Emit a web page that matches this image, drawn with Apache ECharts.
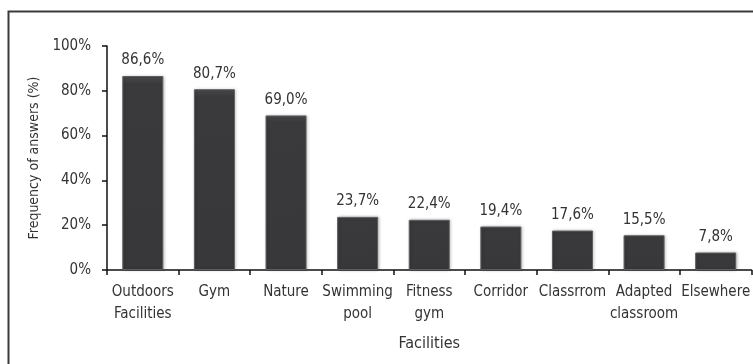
<!DOCTYPE html>
<html>
<head>
<meta charset="utf-8">
<script src="https://cdn.jsdelivr.net/npm/echarts@6/dist/echarts.min.js"></script>
<style>
  html, body { margin: 0; padding: 0; background: #fff; }
  #chart { width: 753px; height: 364px; }
</style>
</head>
<body>
<div id="chart"></div>
<script>
// Places where answers were given, and the share of answers for each
const categories = ['Outdoors\nFacilities', 'Gym', 'Nature', 'Swimming\npool', 'Fitness\ngym',
  'Corridor', 'Classrrom', 'Adapted\nclassroom', 'Elsewhere'];
const frequencies = [86.6, 80.7, 69.0, 23.7, 22.4, 19.4, 17.6, 15.5, 7.8];
const yTicks = [0, 20, 40, 60, 80, 100];

const FONT = "'DejaVu Sans Condensed', 'Liberation Sans Narrow', sans-serif";
const TEXT = '#333333';

const chart = echarts.init(document.getElementById('chart'), null, { renderer: 'canvas' });

chart.setOption({
  animation: false,
  backgroundColor: '#ffffff',
  graphic: [{
    type: 'rect',
    left: 6, top: 9,
    shape: { width: 780, height: 400 },
    style: { fill: 'none', stroke: '#3a3a3a', lineWidth: 2 },
    silent: true
  }],
  grid: { left: 107, top: 46, bottom: 94, width: 648 },
  xAxis: {
    type: 'category',
    data: categories,
    boundaryGap: true,
    name: 'Facilities',
    nameLocation: 'middle',
    nameGap: 66,
    nameTextStyle: { fontFamily: FONT, fontSize: 16, color: TEXT },
    axisLine: { lineStyle: { color: '#111', width: 1.5 } },
    axisTick: { show: true, length: 5, lineStyle: { color: '#111', width: 1.5 } },
    axisLabel: { interval: 0, fontFamily: FONT, fontSize: 15, color: TEXT, lineHeight: 22, margin: 11 }
  },
  yAxis: {
    type: 'value',
    min: yTicks[0],
    max: yTicks[yTicks.length - 1],
    interval: yTicks[1] - yTicks[0],
    name: 'Frequency of answers (%)',
    nameLocation: 'middle',
    nameGap: 66,
    nameTextStyle: { fontFamily: FONT, fontSize: 14, color: TEXT },
    splitLine: { show: false },
    axisLine: { show: true, lineStyle: { color: '#111', width: 1.5 } },
    axisTick: { show: true, length: 5, lineStyle: { color: '#111', width: 1.5 } },
    axisLabel: { fontFamily: FONT, fontSize: 15, color: TEXT, margin: 16, formatter: '{value}%' }
  },
  series: [{
    type: 'bar',
    data: frequencies,
    barWidth: 41,
    itemStyle: {
      color: new echarts.graphic.LinearGradient(0, 0, 0, 1, [
        { offset: 0, color: '#4a4a4c' },
        { offset: 0.04, color: '#3a3a3c' },
        { offset: 1, color: '#38383a' }
      ]),
      borderColor: '#5e5e60',
      borderWidth: 1,
      shadowColor: 'rgba(0,0,0,0.25)',
      shadowBlur: 3,
      shadowOffsetX: 1
    },
    label: {
      show: true,
      position: 'top',
      distance: 8,
      fontFamily: FONT,
      fontSize: 15,
      color: TEXT,
      formatter: p => p.value.toFixed(1).replace('.', ',') + '%'
    }
  }]
});
</script>
</body>
</html>
